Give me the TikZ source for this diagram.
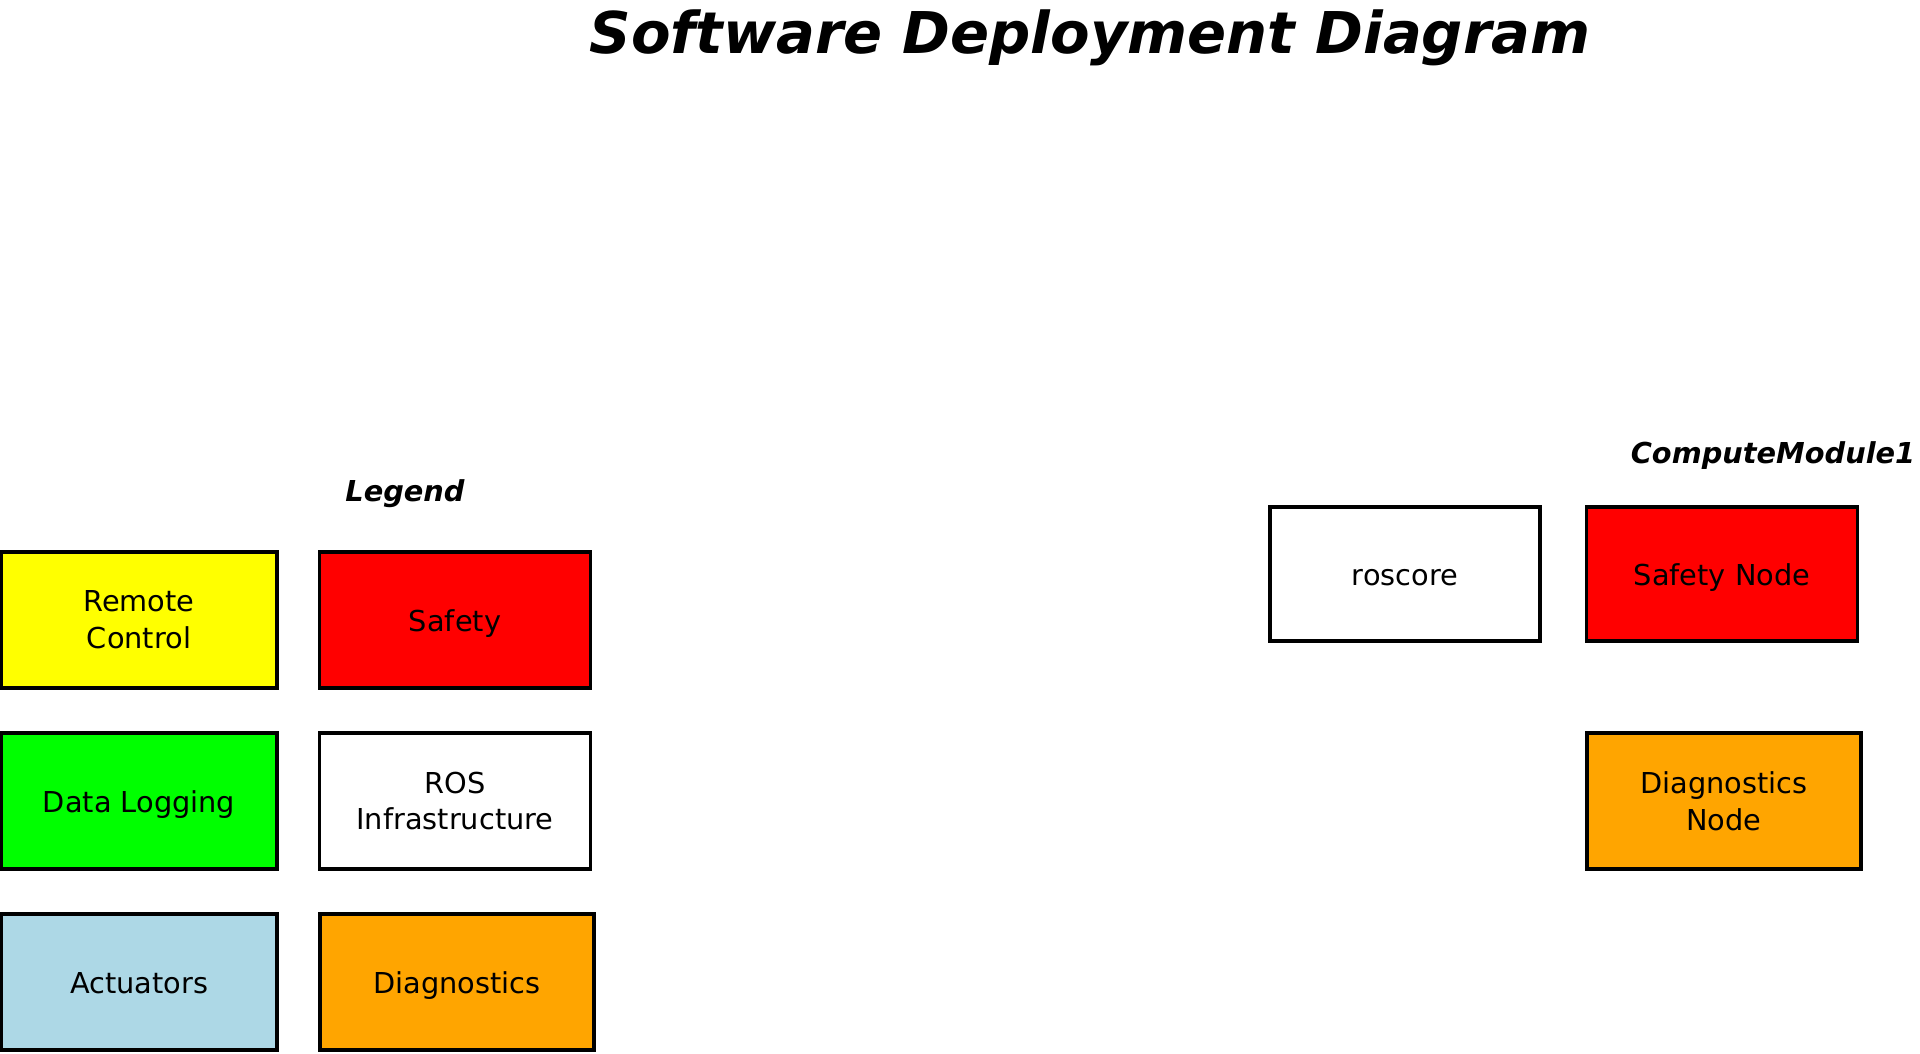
\documentclass[tikz,border=0pt]{standalone}
\usepackage{fontspec}
\setmainfont{DejaVu Sans}

\definecolor{rcyellow}{HTML}{FFFF00}
\definecolor{safered}{HTML}{FF0000}
\definecolor{loggreen}{HTML}{00FF00}
\definecolor{actblue}{HTML}{ADD8E6}
\definecolor{diagorange}{HTML}{FFA500}

\begin{document}
\begin{tikzpicture}[x=1pt, y=-1pt,
  every node/.style={font=\fontsize{28.8}{36.7}\selectfont},
  comp/.style={draw, line width=3.5pt, align=center, inner sep=0pt,
    minimum width=276pt, minimum height=136pt},
  oneline/.style={text height=27pt, text depth=4.5pt},
  grouplabel/.style={font=\fontsize{28.8}{34}\selectfont\bfseries\itshape},
  titlelabel/.style={font=\fontsize{57.6}{64}\selectfont\bfseries\itshape}]
  \useasboundingbox (0, 0) rectangle (1920, 1054);
  \node[titlelabel] (title) at (1090, 38) {Software Deployment Diagram};
  % legend
  \node[grouplabel] (legend) at (405, 494) {Legend};
  \node[comp, fill=rcyellow] (remote) at (139, 620) {Remote\\Control};
  \node[comp, oneline, fill=safered, minimum width=271pt] (safety) at (455, 620) {Safety};
  \node[comp, oneline, fill=loggreen] (logging) at (139, 801) {Data Logging};
  \node[comp, fill=white, minimum width=271pt] (ros) at (455, 801) {ROS\\Infrastructure};
  \node[comp, oneline, fill=actblue] (actuators) at (139, 982) {Actuators};
  \node[comp, oneline, fill=diagorange, minimum width=274pt] (diagnostics) at (457, 982) {Diagnostics};
  % compute module
  \node[grouplabel] (module) at (1773, 456) {ComputeModule1};
  \node[comp, oneline, fill=white, minimum width=270pt, minimum height=134pt] (roscore) at (1405, 574) {roscore};
  \node[comp, oneline, fill=safered, minimum width=271pt, minimum height=134pt] (safetynode) at (1722, 574) {Safety Node};
  \node[comp, fill=diagorange, minimum width=274pt] (diagnode) at (1724, 801) {Diagnostics\\Node};
\end{tikzpicture}
\end{document}
